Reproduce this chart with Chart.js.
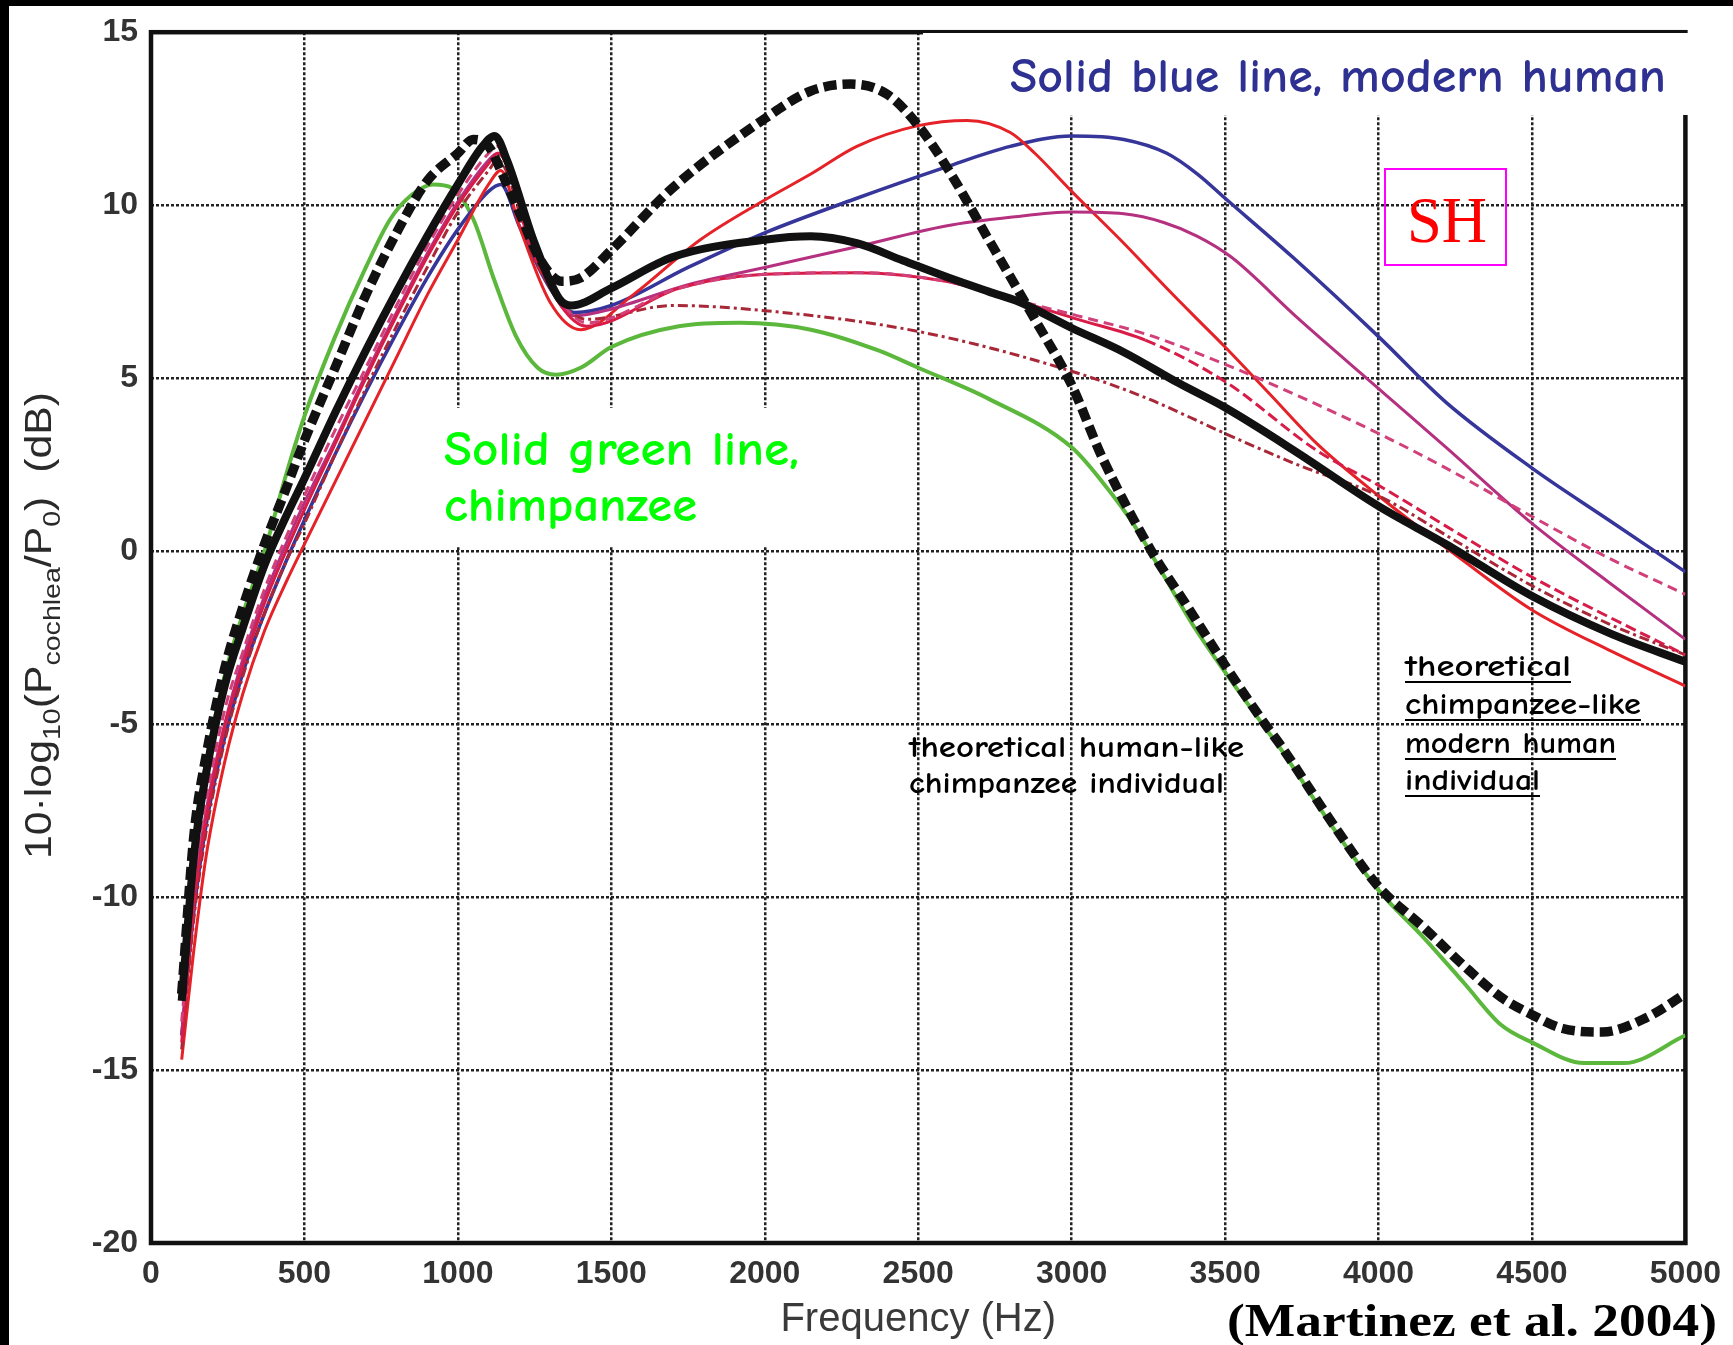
<!DOCTYPE html>
<html>
<head>
<meta charset="utf-8">
<script src="https://cdn.jsdelivr.net/npm/chart.js@4.4.0/dist/chart.umd.min.js"></script>
<style>
  html, body { margin: 0; padding: 0; background: #fff; }
  #wrap { width: 1733px; height: 1345px; position: relative; }
</style>
</head>
<body>
<div id="wrap"><canvas id="chart"></canvas></div>
<script>
// Power transmission to the cochlea (Hz, dB)
const freqBlackDashed = [100,140,180,240,300,370,440,500,600,700,800,900,1000,1050,1100,1150,1200,1270,1340,1400,1500,1700,2000,2150,2280,2400,2500,2600,2730,2880,3000,3100,3260,3370,3500,3630,3680,3860,4000,4150,4280,4400,4500,4600,4730,4870,5000];
const dbBlackDashed   = [-12.8,-8.2,-5.9,-3.4,-1.6,0.2,1.8,3.2,5.3,7.4,9.2,10.7,11.5,11.9,11.7,10.8,9.8,8.4,7.8,7.9,8.7,10.5,12.5,13.3,13.5,13.2,12.3,11.0,9.0,6.7,4.8,2.7,0.0,-1.5,-3.3,-5.0,-5.6,-8.0,-9.7,-10.9,-12.0,-12.9,-13.4,-13.8,-13.9,-13.5,-12.8];

const freqBlackSolid = [100,140,180,240,300,370,440,500,600,700,800,900,1000,1080,1120,1160,1250,1330,1370,1500,1700,2000,2150,2300,2450,2600,2730,2830,3000,3170,3350,3500,3735,4000,4220,4500,4760,5000];
const dbBlackSolid   = [-13.0,-8.8,-6.4,-3.9,-2.2,-0.4,1.0,2.1,4.0,5.8,7.5,9.1,10.6,11.7,12.0,11.3,8.9,7.3,7.1,7.6,8.5,9.0,9.1,8.9,8.4,7.9,7.5,7.2,6.45,5.75,4.85,4.15,2.85,1.3,0.2,-1.3,-2.4,-3.2];

const freqGreen = [100,140,180,240,300,370,440,500,600,700,780,850,920,980,1050,1120,1190,1260,1320,1400,1500,1720,1920,2150,2370,2500,2730,3000,3100,3200,3300,3400,3500,3630,3680,3860,4000,4150,4280,4400,4500,4670,4800,5000];
const dbGreen   = [-12.9,-8.5,-6.1,-3.6,-1.8,0.0,2.2,3.9,6.2,8.2,9.6,10.3,10.6,10.5,9.6,7.8,6.2,5.3,5.1,5.3,5.9,6.5,6.6,6.4,5.8,5.3,4.4,3.0,2.0,0.8,-0.7,-2.2,-3.5,-5.1,-5.7,-8.1,-9.8,-11.2,-12.5,-13.7,-14.2,-14.8,-14.8,-14.0];

const freqBlue = [100,140,180,240,300,370,440,500,600,700,800,900,1000,1100,1140,1200,1300,1380,1500,1750,2000,2300,2590,2800,3000,3170,3310,3410,3500,3720,4000,4220,4500,4750,5000];
const dbBlue   = [-14.0,-10.4,-7.9,-5.4,-3.5,-1.8,-0.3,0.9,2.8,4.6,6.3,7.9,9.3,10.4,10.6,9.4,7.6,6.9,7.1,8.2,9.2,10.2,11.1,11.7,12.0,11.9,11.5,10.9,10.2,8.5,6.2,4.3,2.4,0.9,-0.6];

const freqRed = [100,140,180,240,300,370,440,500,600,700,800,900,1000,1100,1140,1200,1300,1400,1570,1790,2000,2150,2300,2500,2660,2800,2880,3000,3170,3310,3410,3500,3650,3800,4000,4280,4500,4760,5000];
const dbRed   = [-14.7,-11.5,-8.8,-6.1,-4.1,-2.3,-0.9,0.2,2.0,3.8,5.6,7.4,9.0,10.6,11.0,9.4,7.2,6.4,7.4,9.0,10.15,10.9,11.7,12.3,12.45,12.1,11.5,10.4,8.9,7.6,6.7,5.9,4.5,3.1,1.6,-0.3,-1.7,-2.9,-3.9];

const freqPurple = [100,140,180,240,300,370,440,500,600,700,800,900,1000,1100,1130,1250,1380,1500,1750,2000,2300,2590,2800,3000,3170,3300,3410,3520,3735,4000,4220,4500,4750,5000];
const dbPurple   = [-14.0,-10.0,-7.5,-5.0,-3.1,-1.3,0.2,1.4,3.2,5.1,6.9,8.6,10.1,11.3,11.5,8.6,6.8,7.0,7.7,8.2,8.8,9.4,9.65,9.8,9.75,9.5,9.1,8.5,6.75,4.7,3.0,0.8,-0.9,-2.55];

const freqCrimson = [100,140,180,240,300,370,440,500,600,700,800,900,1000,1100,1130,1250,1420,1720,2000,2300,2590,2800,3020,3240,3500,3800,4000,4280,4500,4750,5000];
const dbCrimson   = [-14.2,-10.2,-7.7,-5.1,-3.3,-1.5,0.0,1.2,3.1,5.0,6.8,8.5,10.0,11.2,11.5,8.5,6.5,7.6,8.0,8.05,7.8,7.3,6.7,6.1,4.9,2.9,1.9,0.4,-0.75,-1.9,-3.0];

const freqPinkDashed = [100,140,180,240,300,370,440,500,600,700,800,900,1000,1100,1130,1250,1420,1720,2000,2300,2590,2800,3020,3250,3500,3735,4000,4220,4500,4750,5000];
const dbPinkDashed   = [-13.6,-9.6,-7.2,-4.6,-2.9,-1.1,0.4,1.6,3.5,5.3,7.1,8.8,10.3,11.5,11.7,8.7,6.6,7.6,8.0,8.05,7.8,7.3,6.8,6.25,5.4,4.5,3.4,2.4,1.0,-0.2,-1.25];

const freqDashDot = [100,140,180,240,300,370,440,500,600,700,800,900,1000,1100,1130,1250,1420,1700,2000,2500,3000,3250,3500,3735,4000,4250,4500,4750,5000];
const dbDashDot   = [-14.4,-10.6,-8.1,-5.5,-3.6,-1.8,-0.3,0.8,2.8,4.7,6.5,8.2,9.8,11.0,11.3,8.4,6.7,7.1,6.95,6.35,5.2,4.4,3.4,2.5,1.6,0.3,-1.0,-2.1,-3.0];

const freqTicks = { min: 0, max: 5000, step: 500 };
const dbTicks = { min: -20, max: 15, step: 5 };

const TICK_FONT = 'Arial, "Liberation Sans", Helvetica, sans-serif';
const COMIC_FONT = '"Comic Sans MS", "Comic Neue", "Noto Sans", sans-serif';
const SERIF_FONT = '"Times New Roman", "Liberation Serif", serif';

const pts = (fs, vs) => fs.map((f, i) => ({ x: f, y: vs[i] }));

function line(label, fs, vs, color, width, order, extra) {
    return Object.assign({
        label: label,
        data: pts(fs, vs),
        borderColor: color,
        borderWidth: width,
        pointRadius: 0,
        fill: false,
        cubicInterpolationMode: 'monotone',
        borderJoinStyle: 'round',
        order: order
    }, extra || {});
}

// draw text squeezed/stretched to a measured width
function fitText(ctx, text, x, y, width, font, color) {
    ctx.save();
    ctx.font = font;
    const w = ctx.measureText(text).width;
    ctx.translate(x, y);
    ctx.scale(width / w, 1);
    ctx.fillStyle = color;
    ctx.textBaseline = 'alphabetic';
    ctx.textAlign = 'left';
    ctx.fillText(text, 0, 0);
    ctx.restore();
}

function drawYTitle(ctx) {
    const parts = [['10\u00b7log', 0], ['10', 1], ['(P', 0], ['cochlea', 1], ['/P', 0], ['0', 1], [')  (dB)', 0]];
    const mainSize = 36, subSize = 24;
    ctx.save();
    let total = 0;
    parts.forEach(([t, s]) => {
        ctx.font = (s ? subSize : mainSize) + 'px ' + TICK_FONT;
        total += ctx.measureText(t).width;
    });
    ctx.translate(51, 859);
    ctx.rotate(-Math.PI / 2);
    ctx.scale(467 / total, 1);
    ctx.fillStyle = '#2a2a2a';
    ctx.textBaseline = 'alphabetic';
    let x = 0;
    parts.forEach(([t, s]) => {
        ctx.font = (s ? subSize : mainSize) + 'px ' + TICK_FONT;
        ctx.fillText(t, x, s ? 9 : 0);
        x += ctx.measureText(t).width;
    });
    ctx.restore();
}

const decor = {
    id: 'decor',
    beforeDraw(chart) {
        const { ctx, width, height } = chart;
        ctx.save();
        ctx.fillStyle = '#fff';
        ctx.fillRect(0, 0, width, height);
        ctx.fillStyle = '#000';
        ctx.fillRect(0, 0, 9, height);
        ctx.fillRect(0, 0, width, 6);
        ctx.restore();
    },
    beforeDatasetsDraw(chart) {
        const { ctx, chartArea: a } = chart;
        ctx.save();
        // axes box
        ctx.strokeStyle = '#111';
        ctx.lineWidth = 4.5;
        ctx.strokeRect(a.left, a.top, a.right - a.left, a.bottom - a.top);
        // white label boxes pasted over the grid
        ctx.fillStyle = '#fff';
        ctx.fillRect(923, 33, 772, 82);
        ctx.fillRect(421, 408, 495, 139);
        ctx.restore();
    },
    afterDraw(chart) {
        const ctx = chart.ctx;
        fitText(ctx, 'Solid blue line, modern human', 1010, 92, 656, 'bold 48px ' + COMIC_FONT, '#2e3192');
        fitText(ctx, 'Solid green line,', 444, 465, 355, 'bold 48px ' + COMIC_FONT, '#00ff00');
        fitText(ctx, 'chimpanzee', 444, 521, 253, 'bold 48px ' + COMIC_FONT, '#00ff00');
        fitText(ctx, 'theoretical human-like', 909, 757, 335, 'bold 30px ' + COMIC_FONT, '#000');
        fitText(ctx, 'chimpanzee individual', 909, 793, 315, 'bold 30px ' + COMIC_FONT, '#000');

        const under = [['theoretical', 676, 166], ['chimpanzee-like', 714, 236], ['modern human', 753, 211], ['individual', 790, 135]];
        under.forEach(([t, y, w]) => {
            fitText(ctx, t, 1405, y, w, 'bold 30px ' + COMIC_FONT, '#000');
            ctx.fillStyle = '#000';
            ctx.fillRect(1405, y + 5, w, 2);
        });

        // SH box
        ctx.save();
        ctx.strokeStyle = '#ff00ff';
        ctx.lineWidth = 2;
        ctx.strokeRect(1385, 169, 121, 96);
        ctx.restore();
        fitText(ctx, 'SH', 1407, 242, 80, '66px ' + SERIF_FONT, '#ff0000');

        fitText(ctx, '(Martinez et al. 2004)', 1227, 1336, 490, 'bold 46px ' + SERIF_FONT, '#000');

        drawYTitle(ctx);
    }
};

const chart = new Chart(document.getElementById('chart').getContext('2d'), {
    type: 'line',
    data: {
        datasets: [
            line('Theoretical human-like chimpanzee', freqBlackDashed, dbBlackDashed, '#111', 9.5, 0, { borderDash: [13, 6], borderCapStyle: 'butt' }),
            line('Theoretical chimpanzee-like modern human', freqBlackSolid, dbBlackSolid, '#111', 8, 1),
            line('SH dashed', freqPinkDashed, dbPinkDashed, '#d2407a', 3, 2, { borderDash: [10, 6] }),
            line('SH crimson', freqCrimson, dbCrimson, '#d81c48', 3, 3, {
                segment: { borderDash: c => (c.p0.parsed.x >= 3240 ? [11, 5] : undefined) }
            }),
            line('SH dash-dot', freqDashDot, dbDashDot, '#a82838', 3, 4, { borderDash: [10, 4, 3, 4] }),
            line('SH purple', freqPurple, dbPurple, '#b5307f', 3, 5),
            line('SH red', freqRed, dbRed, '#e42228', 3, 6),
            line('Modern human', freqBlue, dbBlue, '#35359a', 3.5, 7),
            line('Chimpanzee', freqGreen, dbGreen, '#5cb83c', 4, 8)
        ]
    },
    options: {
        responsive: true,
        maintainAspectRatio: false,
        devicePixelRatio: 1,
        animation: false,
        layout: { padding: { left: 0, right: 44, top: 28, bottom: 0 } },
        plugins: {
            legend: { display: false },
            tooltip: { enabled: false }
        },
        scales: {
            x: {
                type: 'linear',
                min: freqTicks.min,
                max: freqTicks.max,
                ticks: {
                    stepSize: freqTicks.step,
                    autoSkip: false,
                    maxRotation: 0,
                    padding: 12,
                    color: '#333',
                    font: { family: TICK_FONT, size: 32, weight: 'bold' },
                    callback: v => String(v)
                },
                grid: { color: '#222', lineWidth: 2.5, drawTicks: false },
                border: { display: false, dash: [3, 2] },
                title: {
                    display: true,
                    text: 'Frequency (Hz)',
                    color: '#3a3a3a',
                    font: { family: TICK_FONT, size: 40 },
                    padding: { top: 0, bottom: 1 }
                },
                afterFit: s => { s.height = 102; }
            },
            y: {
                min: dbTicks.min,
                max: dbTicks.max,
                ticks: {
                    stepSize: dbTicks.step,
                    padding: 13,
                    color: '#333',
                    font: { family: TICK_FONT, size: 32, weight: 'bold' },
                    callback: v => String(v)
                },
                grid: { color: '#222', lineWidth: 2.5, drawTicks: false },
                border: { display: false, dash: [3, 2] },
                afterFit: s => { s.width = 151; }
            }
        }
    },
    plugins: [decor]
});
</script>
</body>
</html>
